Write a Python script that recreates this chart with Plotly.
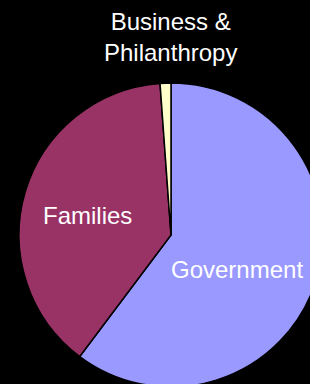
import plotly.graph_objects as go

labels = ["Government", "Families", "Business &<br>Philanthropy"]
values = [60.25, 38.6, 1.15]
colors = ["#9999FF", "#993366", "#FFFFCC"]

# label placement (paper coords of the pie domain)
label_x = [0.717, 0.225, 0.497]
label_y = [0.388, 0.564, 1.151]

fig = go.Figure(go.Pie(
    labels=labels,
    values=values,
    sort=False,
    direction="clockwise",
    rotation=0,
    marker=dict(colors=colors, line=dict(color="black", width=1.5)),
    textinfo="none",
    showlegend=False,
    hoverinfo="label+percent",
))

for lab, lx, ly in zip(labels, label_x, label_y):
    fig.add_annotation(
        text=lab, x=lx, y=ly, xref="paper", yref="paper",
        xanchor="center", yanchor="middle", showarrow=False,
        font=dict(family="Liberation Sans, Arial", size=24, color="white"),
    )

fig.update_layout(
    width=323, height=387,
    margin=dict(l=19, r=0, t=83, b=0),
    paper_bgcolor="black", plot_bgcolor="black",
)

fig.write_html(
    "out.html",
    config={"displayModeBar": False},
    post_script="document.body.style.margin='0';document.body.style.background='black';"
                "document.body.style.overflow='hidden';document.documentElement.style.overflow='hidden';",
)
